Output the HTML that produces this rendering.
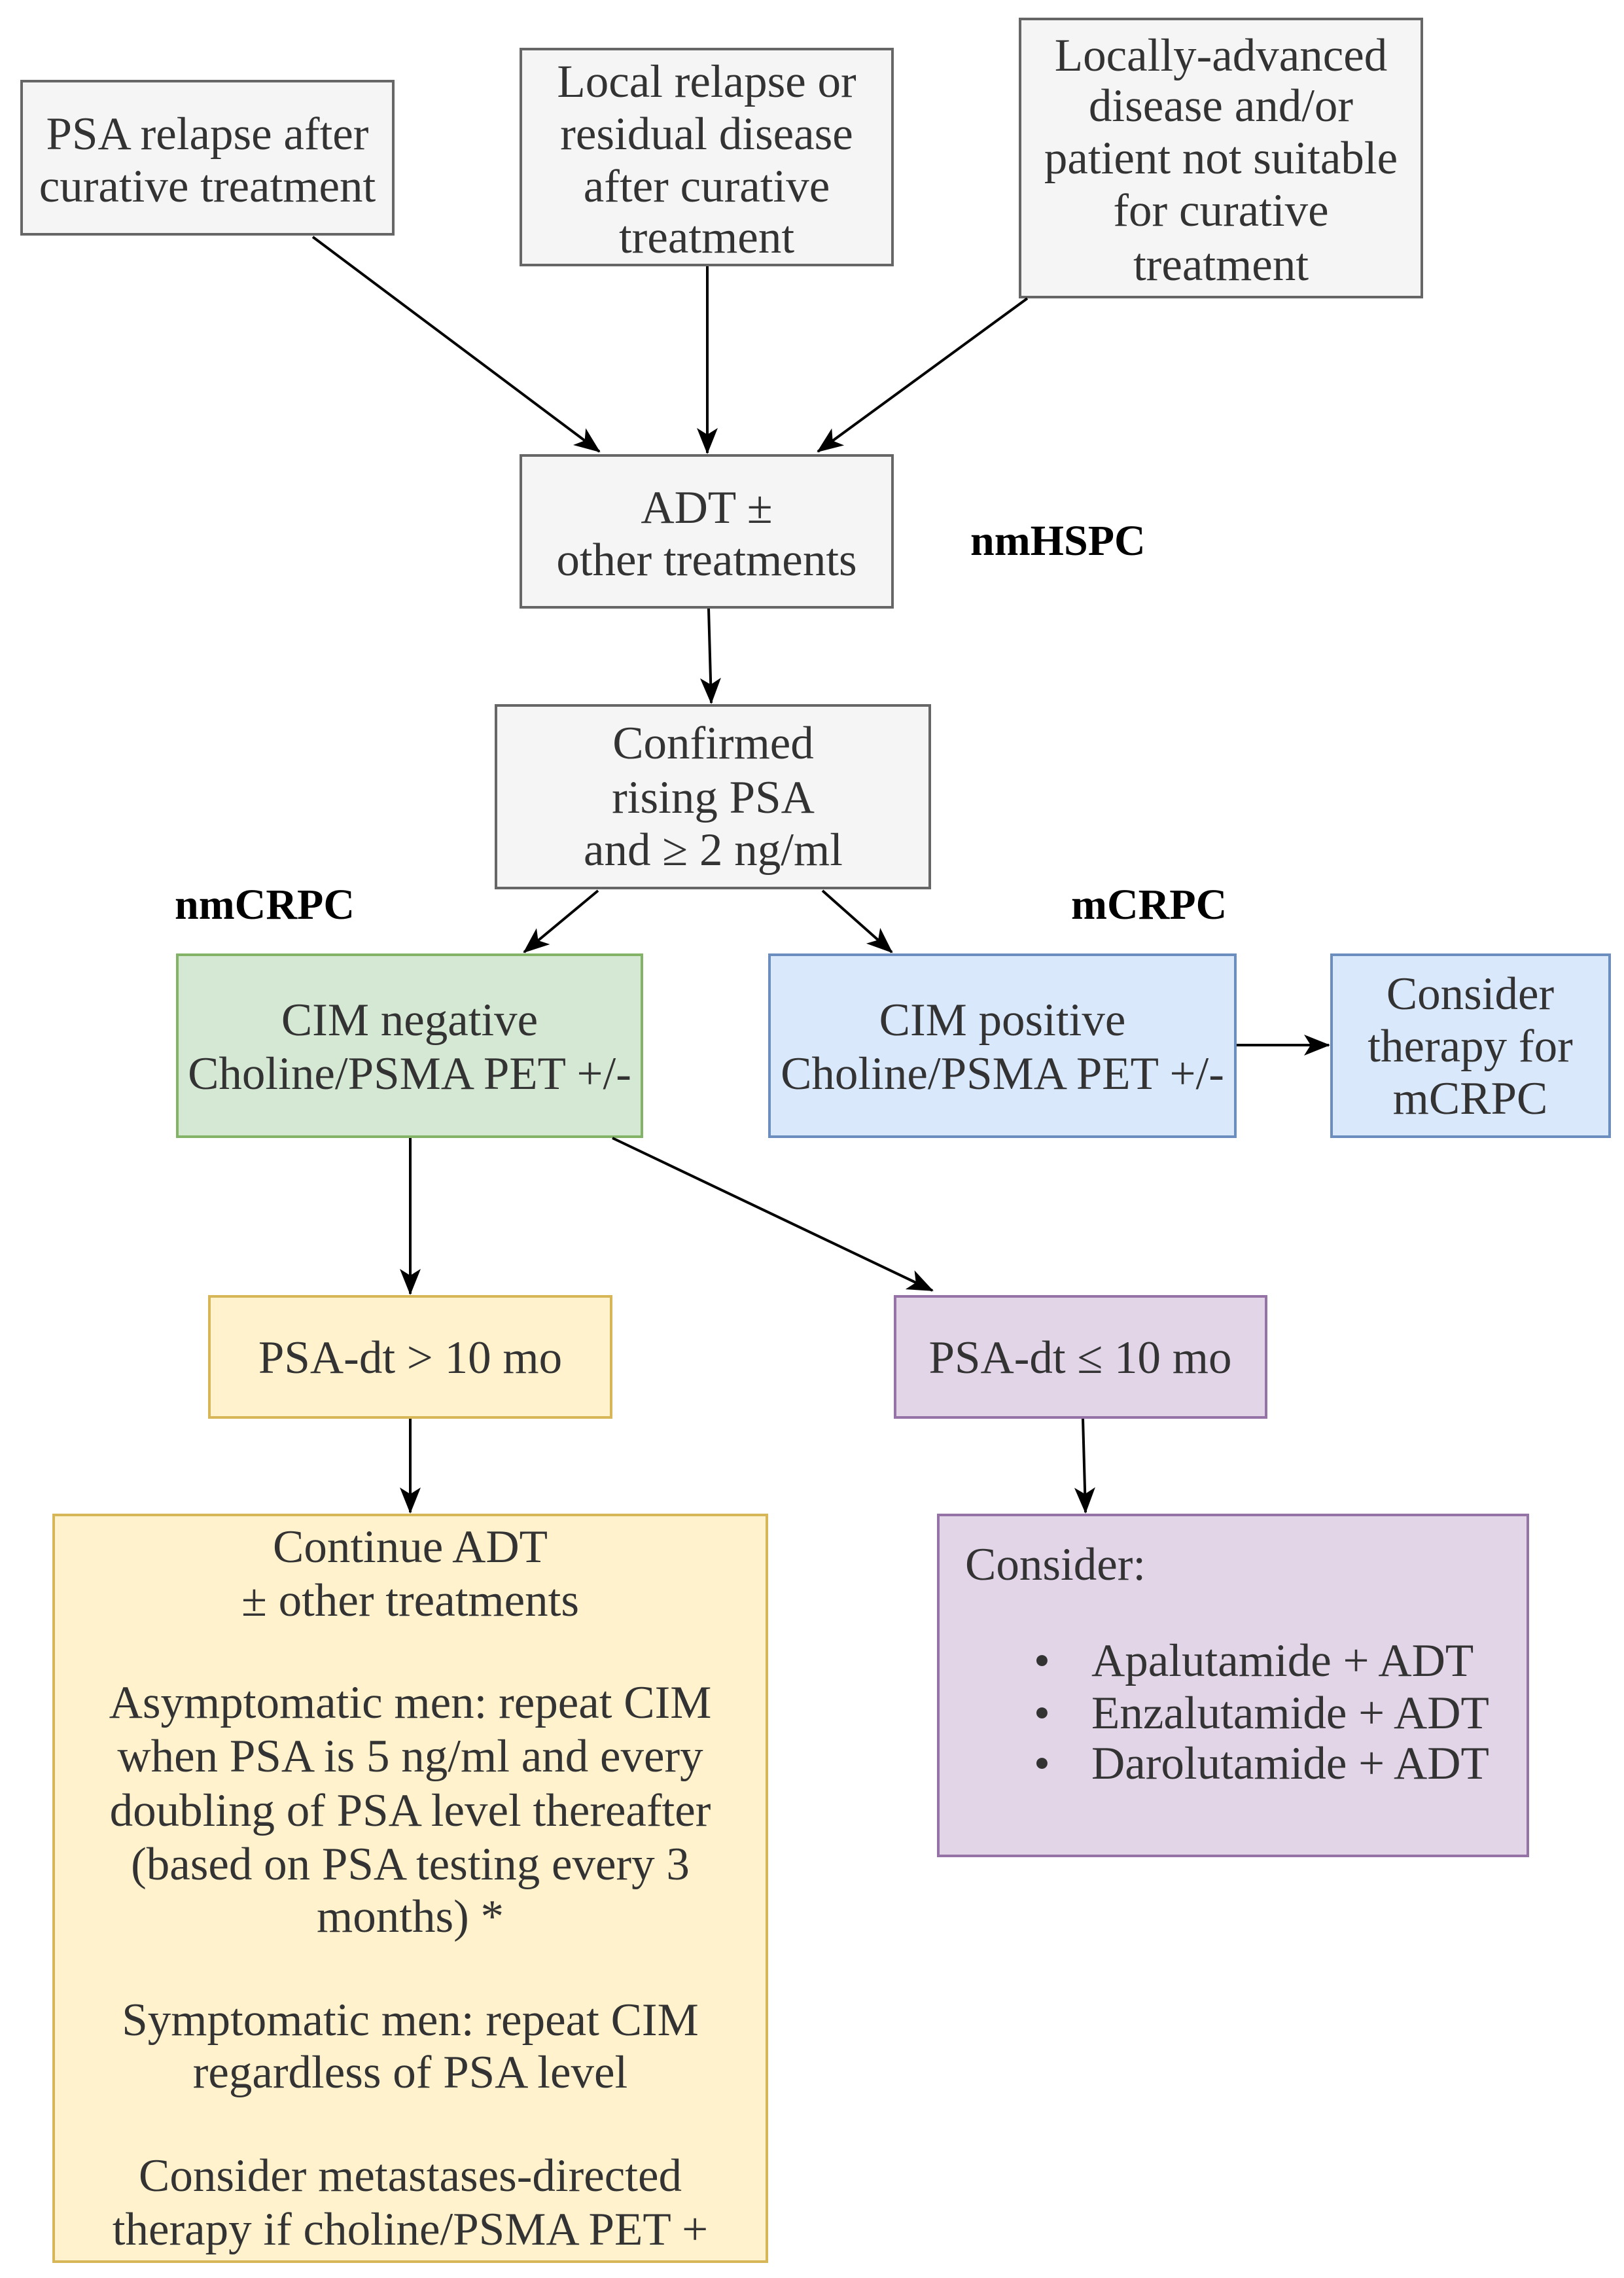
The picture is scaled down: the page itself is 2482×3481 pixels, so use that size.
<!DOCTYPE html>
<html><head><meta charset="utf-8"><style>
body{margin:0;background:#fff;}
#c{position:relative;width:2482px;height:3481px;overflow:hidden;font-family:"Liberation Serif",serif;color:#333;font-size:71px;}
.b{position:absolute;box-sizing:border-box;border:4px solid #666;background:#f5f5f5;}
.g{background:#d5e8d4;border-color:#82b366;}
.bl{background:#dae8fc;border-color:#6c8ebf;}
.y{background:#fff2cc;border-color:#d6b656;}
.p{background:#e1d5e7;border-color:#9673a6;}
.t{position:absolute;line-height:80px;height:80px;white-space:nowrap;transform:translateX(-50%);}
.l{position:absolute;line-height:80px;height:80px;white-space:nowrap;}
.k{font-weight:bold;color:#000;font-size:66px;}
svg{position:absolute;left:0;top:0;}
</style></head><body><div id="c">
<div class="b" style="left:31px;top:122px;width:572px;height:238px"></div>
<div class="b" style="left:794px;top:73px;width:572px;height:334px"></div>
<div class="b" style="left:1557px;top:27px;width:618px;height:429px"></div>
<div class="b" style="left:794px;top:694px;width:572px;height:236px"></div>
<div class="b" style="left:756px;top:1076px;width:667px;height:283px"></div>
<div class="b g" style="left:269px;top:1457px;width:714px;height:282px"></div>
<div class="b bl" style="left:1174px;top:1457px;width:716px;height:282px"></div>
<div class="b bl" style="left:2033px;top:1457px;width:429px;height:282px"></div>
<div class="b y" style="left:318px;top:1979px;width:618px;height:189px"></div>
<div class="b p" style="left:1366px;top:1979px;width:571px;height:189px"></div>
<div class="b y" style="left:80px;top:2313px;width:1094px;height:1145px"></div>
<div class="b p" style="left:1432px;top:2313px;width:905px;height:525px"></div>

<svg width="2482" height="3481" viewBox="0 0 2482 3481">
<defs><marker id="a" markerWidth="40" markerHeight="40" refX="38" refY="20" orient="auto" markerUnits="userSpaceOnUse" viewBox="0 0 40 40"><path d="M0,4 L40,20 L0,36 L10,20 z" fill="#000"/></marker></defs>
<g stroke="#000" stroke-width="4" fill="none">
<line x1="478" y1="362" x2="916" y2="690" marker-end="url(#a)"/>
<line x1="1081" y1="407" x2="1081" y2="692" marker-end="url(#a)"/>
<line x1="1570" y1="456" x2="1250" y2="690" marker-end="url(#a)"/>
<line x1="1083" y1="930" x2="1087" y2="1074" marker-end="url(#a)"/>
<line x1="914" y1="1361" x2="801" y2="1455" marker-end="url(#a)"/>
<line x1="1257" y1="1361" x2="1363" y2="1455" marker-end="url(#a)"/>
<line x1="1890" y1="1597" x2="2031" y2="1597" marker-end="url(#a)"/>
<line x1="627" y1="1739" x2="627" y2="1977" marker-end="url(#a)"/>
<line x1="936" y1="1739" x2="1425" y2="1972" marker-end="url(#a)"/>
<line x1="627" y1="2168" x2="627" y2="2311" marker-end="url(#a)"/>
<line x1="1655" y1="2168" x2="1659" y2="2311" marker-end="url(#a)"/>
</g></svg>

<div class="t" style="left:317px;top:165px">PSA relapse after</div>
<div class="t" style="left:317px;top:245px">curative treatment</div>

<div class="t" style="left:1080px;top:85px">Local relapse or</div>
<div class="t" style="left:1080px;top:165px">residual disease</div>
<div class="t" style="left:1080px;top:245px">after curative</div>
<div class="t" style="left:1080px;top:323px">treatment</div>

<div class="t" style="left:1866px;top:45px">Locally-advanced</div>
<div class="t" style="left:1866px;top:122px">disease and/or</div>
<div class="t" style="left:1866px;top:202px">patient not suitable</div>
<div class="t" style="left:1866px;top:282px">for curative</div>
<div class="t" style="left:1866px;top:365px">treatment</div>

<div class="t" style="left:1080px;top:736px">ADT ±</div>
<div class="t" style="left:1080px;top:816px">other treatments</div>
<div class="l k" style="left:1483px;top:787px">nmHSPC</div>

<div class="t" style="left:1090px;top:1096px">Confirmed</div>
<div class="t" style="left:1090px;top:1179px">rising PSA</div>
<div class="t" style="left:1090px;top:1259px">and ≥ 2 ng/ml</div>

<div class="l k" style="left:267px;top:1343px">nmCRPC</div>
<div class="l k" style="left:1637px;top:1343px">mCRPC</div>

<div class="t" style="left:626px;top:1519px">CIM negative</div>
<div class="t" style="left:626px;top:1601px">Choline/PSMA PET +/-</div>
<div class="t" style="left:1532px;top:1519px">CIM positive</div>
<div class="t" style="left:1532px;top:1601px">Choline/PSMA PET +/-</div>
<div class="t" style="left:2247px;top:1479px">Consider</div>
<div class="t" style="left:2247px;top:1559px">therapy for</div>
<div class="t" style="left:2247px;top:1639px">mCRPC</div>

<div class="t" style="left:627px;top:2035px">PSA-dt &gt; 10 mo</div>
<div class="t" style="left:1651px;top:2035px">PSA-dt ≤ 10 mo</div>

<div class="t" style="left:627px;top:2324px">Continue ADT</div>
<div class="t" style="left:627px;top:2406px">± other treatments</div>
<div class="t" style="left:627px;top:2562px">Asymptomatic men: repeat CIM</div>
<div class="t" style="left:627px;top:2644px">when PSA is 5 ng/ml and every</div>
<div class="t" style="left:627px;top:2727px">doubling of PSA level thereafter</div>
<div class="t" style="left:627px;top:2809px">(based on PSA testing every 3</div>
<div class="t" style="left:627px;top:2889px">months) *</div>
<div class="t" style="left:627px;top:3047px">Symptomatic men: repeat CIM</div>
<div class="t" style="left:627px;top:3127px">regardless of PSA level</div>
<div class="t" style="left:627px;top:3285px">Consider metastases-directed</div>
<div class="t" style="left:627px;top:3367px">therapy if choline/PSMA PET +</div>

<div class="l" style="left:1475px;top:2351px">Consider:</div>
<div class="l" style="left:1580px;top:2498px">•</div>
<div class="l" style="left:1668px;top:2498px">Apalutamide + ADT</div>
<div class="l" style="left:1580px;top:2578px">•</div>
<div class="l" style="left:1668px;top:2578px">Enzalutamide + ADT</div>
<div class="l" style="left:1580px;top:2655px">•</div>
<div class="l" style="left:1668px;top:2655px">Darolutamide + ADT</div>
</div></body></html>
